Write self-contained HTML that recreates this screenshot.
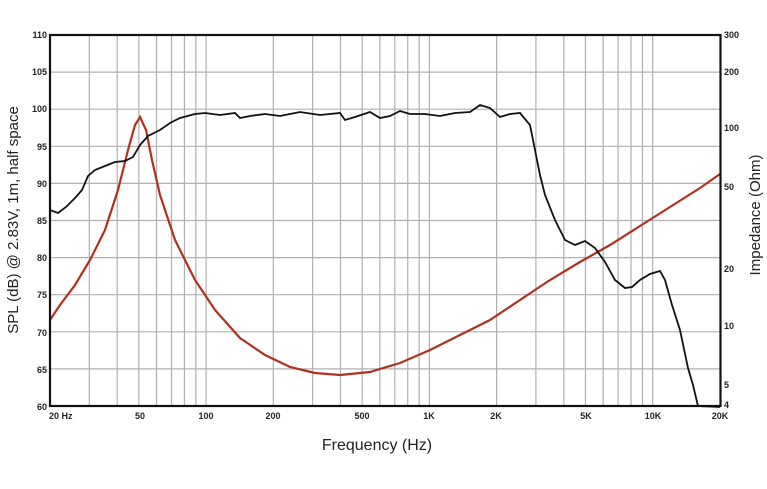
<!DOCTYPE html>
<html><head><style>
body{margin:0;background:#fff;}
svg text{font-family:"Liberation Sans",Arial,sans-serif;}
</style></head><body>
<svg id="s" width="767" height="484" viewBox="0 0 767 484" xmlns="http://www.w3.org/2000/svg">
<g id="grid" stroke="#b0b0b0" stroke-width="1.2"></g>
<g font-size="9" font-weight="bold" fill="#222">
<text x="47" y="38" text-anchor="end">110</text>
<text x="47" y="75" text-anchor="end">105</text>
<text x="47" y="112" text-anchor="end">100</text>
<text x="47" y="150" text-anchor="end">95</text>
<text x="47" y="187" text-anchor="end">90</text>
<text x="47" y="224" text-anchor="end">85</text>
<text x="47" y="261" text-anchor="end">80</text>
<text x="47" y="298" text-anchor="end">75</text>
<text x="47" y="336" text-anchor="end">70</text>
<text x="47" y="373" text-anchor="end">65</text>
<text x="47" y="410" text-anchor="end">60</text>
<text x="724" y="38">300</text>
<text x="724" y="75">200</text>
<text x="724" y="131">100</text>
<text x="724" y="190">50</text>
<text x="724" y="272">20</text>
<text x="724" y="329">10</text>
<text x="724" y="388">5</text>
<text x="724" y="408">4</text>
<text x="49" y="419">20 Hz</text>
<text x="140" y="419" text-anchor="middle">50</text>
<text x="206" y="419" text-anchor="middle">100</text>
<text x="273" y="419" text-anchor="middle">200</text>
<text x="362" y="419" text-anchor="middle">500</text>
<text x="429" y="419" text-anchor="middle">1K</text>
<text x="496" y="419" text-anchor="middle">2K</text>
<text x="586" y="419" text-anchor="middle">5K</text>
<text x="653" y="419" text-anchor="middle">10K</text>
<text x="720" y="419" text-anchor="middle">20K</text>
</g>
<text x="377" y="450" font-size="16" text-anchor="middle" fill="#222">Frequency (Hz)</text>
<text transform="translate(18,220) rotate(-90)" font-size="15" text-anchor="middle" fill="#222">SPL (dB) @ 2.83V, 1m, half space</text>
<text transform="translate(760,215) rotate(-90)" font-size="15" text-anchor="middle" fill="#222">Impedance (Ohm)</text>
<polyline fill="none" stroke="#b03020" stroke-width="2.2" points="50,320 60,305 75,285 90,260 105,230 118,190 128,150 135,125 140,117 146,130 152,160 160,195 175,240 195,280 215,310 240,338 265,355 290,367 315,373 340,375 370,372 400,363 430,350 460,335 490,320 520,300 550,280 580,262 610,245 640,226 670,207 700,188 720,174"/>
<polyline fill="none" stroke="#111" stroke-width="1.8" points="50,210 58,213 66,207 75,198 82,190 88,176 95,170 105,166 115,162 125,161 133,157 140,145 148,136 160,130 170,123 180,118 195,114 205,113 220,115 235,113 240,118 250,116 265,114 280,116 300,112 320,115 340,113 345,120 355,117 370,112 380,118 390,116 400,111 410,114 425,114 440,116 455,113 470,112 480,105 490,108 500,117 510,114 520,113 530,125 535,150 540,175 545,195 555,220 565,240 575,245 585,241 595,248 605,262 615,280 625,288 632,287 640,280 650,274 660,271 665,280 672,305 680,330 688,368 693,385 698,406 720,407"/>
<rect x="50" y="35" width="670.5" height="371" fill="none" stroke="#111" stroke-width="2.2"/>
</svg>
<script>
var g=document.getElementById('grid'),ns='http://www.w3.org/2000/svg';
function L(x1,y1,x2,y2){var l=document.createElementNS(ns,'line');l.setAttribute('x1',x1);l.setAttribute('y1',y1);l.setAttribute('x2',x2);l.setAttribute('y2',y2);g.appendChild(l);}
for(var i=1;i<10;i++){var y=35+i*37.1;L(50,y,720,y);}
[10,100,1000,10000].forEach(function(d){for(var m=1;m<10;m++){var f=d*m;if(f<=20||f>=20000)continue;var x=50+223.3*Math.log10(f/20);L(x,35,x,406);}});
</script>
</body></html>
